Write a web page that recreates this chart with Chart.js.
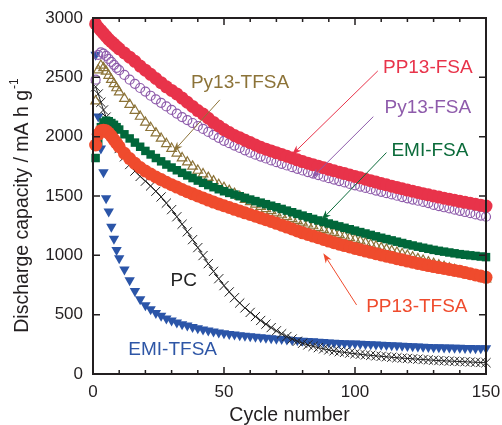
<!DOCTYPE html>
<html>
<head>
<meta charset="utf-8">
<script src="https://cdn.jsdelivr.net/npm/chart.js@4.4.0/dist/chart.umd.min.js"></script>
<style>
  html, body { margin: 0; padding: 0; background: #fff; }
</style>
</head>
<body>
<canvas id="capChart" width="502" height="425"></canvas>
<script>
// cycle numbers shared by all series
const cycles = [1,2,3,4,5,6,7,8,9,10,12,14,16,18,20,22,24,26,28,30,32,34,36,38,40,42,44,46,48,50,
  52,54,56,58,60,62,64,66,68,70,72,74,76,78,80,82,84,86,88,90,92,94,96,98,100,102,104,106,108,110,
  112,114,116,118,120,122,124,126,128,130,132,134,136,138,140,142,144,146,148,150];

// discharge capacity, mA h g-1
const pp13FSA = [2950,2920,2895,2870,2845,2820,2800,2780,2760,2740,
  2705,2670,2635,2595,2560,2525,2490,2455,2420,2390,
  2360,2325,2290,2255,2220,2190,2155,2120,2090,2060,
  2035,2010,1990,1970,1950,1930,1910,1895,1880,1865,
  1850,1835,1820,1805,1790,1777,1764,1751,1738,1725,
  1713,1701,1689,1677,1665,1653,1641,1629,1617,1605,
  1594,1583,1572,1561,1550,1540,1530,1520,1510,1500,
  1491,1482,1473,1464,1455,1447,1439,1431,1423,1415];

const py13FSA = [2480,2690,2710,2700,2680,2655,2630,2605,2580,2560,
  2520,2480,2445,2410,2380,2345,2315,2285,2255,2225,
  2195,2165,2140,2115,2090,2065,2040,2015,1990,1965,
  1945,1925,1905,1885,1865,1848,1832,1816,1800,1785,
  1771,1757,1743,1729,1715,1702,1689,1676,1663,1650,
  1638,1626,1614,1602,1590,1579,1568,1557,1546,1535,
  1524,1513,1502,1491,1480,1470,1460,1450,1440,1425,
  1415,1405,1395,1385,1375,1365,1355,1345,1335,1325];

const pp13TFSA = [1930,2020,2050,2055,2050,2030,2005,1975,1945,1915,
  1860,1815,1775,1740,1710,1685,1660,1638,1616,1595,
  1575,1555,1536,1518,1500,1483,1466,1449,1433,1418,
  1403,1388,1373,1358,1344,1330,1315,1300,1285,1270,
  1254,1238,1222,1206,1190,1176,1162,1148,1134,1120,
  1107,1094,1082,1070,1058,1047,1036,1025,1014,1003,
  993,983,972,962,952,942,932,923,914,905,
  897,889,881,873,865,855,845,835,825,815];

const emiFSA = [1820,1960,2080,2120,2135,2130,2115,2100,2080,2060,
  2020,1985,1950,1915,1880,1850,1820,1792,1765,1740,
  1717,1695,1673,1651,1630,1611,1592,1574,1557,1540,
  1526,1512,1498,1484,1470,1457,1444,1431,1418,1405,
  1391,1377,1363,1349,1335,1321,1307,1294,1281,1268,
  1256,1244,1232,1220,1208,1196,1184,1172,1160,1148,
  1137,1126,1115,1104,1093,1083,1073,1064,1055,1046,
  1038,1031,1024,1017,1010,1005,1000,995,990,985];

const py13TFSA = [2300,2560,2600,2580,2550,2515,2480,2445,2410,2375,
  2320,2270,2220,2170,2120,2075,2030,1985,1940,1900,
  1860,1820,1785,1750,1715,1685,1655,1625,1595,1570,
  1545,1520,1495,1470,1450,1430,1410,1392,1374,1356,
  1340,1324,1308,1292,1277,1262,1247,1232,1217,1203,
  1189,1175,1161,1147,1133,1119,1105,1091,1077,1063,
  1050,1037,1024,1011,998,984,970,957,943,930,
  917,904,891,878,865,852,839,826,813,800];

const pcData = [2420,2360,2290,2225,2165,2105,2050,1995,1945,1900,
  1830,1765,1710,1665,1625,1585,1540,1492,1440,1385,
  1325,1262,1198,1132,1065,998,930,865,803,745,
  692,643,598,557,519,484,451,420,391,364,
  339,316,295,276,259,245,233,222,212,203,
  195,188,182,176,171,166,161,157,153,149,
  145,141,137,134,131,128,125,122,119,116,
  113,111,109,107,105,103,101,99,97,95];

const emiTFSA = [2690,2170,1900,1700,1480,1370,1240,1140,1045,975,
  880,790,700,630,580,545,515,490,468,450,
  434,420,408,396,385,375,366,358,350,343,
  337,332,327,322,318,314,310,306,302,298,
  294,290,287,284,281,278,275,272,269,266,
  264,262,260,258,256,254,252,250,248,246,
  244,242,240,238,236,234,232,230,228,226,
  225,224,223,222,221,220,219,218,217,216];

const xTicks = [0, 50, 100, 150];
const yTicks = [0, 500, 1000, 1500, 2000, 2500, 3000];

// curve labels: text position and arrow (from -> to), in data units
const labels = [
  { text: 'PP13-FSA',  color: '#e8334a', at: [127.8, 2580], arrow: [[108.7, 2554], [75.9, 1846]] },
  { text: 'Py13-FSA',  color: '#8e5bab', at: [127.8, 2242], arrow: [[107, 2169], [83.4, 1650]] },
  { text: 'EMI-FSA',   color: '#0b6b3a', at: [128.6, 1880], arrow: [[112, 1866], [87.2, 1298]] },
  { text: 'Py13-TFSA', color: '#8c7338', at: [56.1, 2453], arrow: [[48.4, 2310], [30.6, 1874]] },
  { text: 'PC',        color: '#222222', at: [34.6, 784] },
  { text: 'EMI-TFSA',  color: '#2e56a6', at: [30.4, 202] },
  { text: 'PP13-TFSA', color: '#ef4b2d', at: [123.6, 565], arrow: [[100.6, 582], [87.9, 1018]] }
];

const FONT = '"Liberation Sans", Arial, Helvetica, sans-serif';
const INK = '#231f20';

function pts(vals) {
  return cycles.map((c, i) => ({ x: c, y: vals[i] }));
}

// frame, inward ticks, y title and curve labels
const decorations = {
  id: 'decorations',
  afterDatasetsDraw(chart) {
    const ctx = chart.ctx;
    const a = chart.chartArea;
    const xs = chart.scales.x, ys = chart.scales.y;
    ctx.save();
    ctx.strokeStyle = INK;
    ctx.lineWidth = 1.5;
    ctx.beginPath();
    for (let v = 0; v <= 150; v += 10) {
      const px = xs.getPixelForValue(v);
      const len = v % 50 === 0 ? 7 : 4;
      ctx.moveTo(px, a.bottom); ctx.lineTo(px, a.bottom - len);
      ctx.moveTo(px, a.top); ctx.lineTo(px, a.top + len);
    }
    yTicks.forEach(v => {
      const py = ys.getPixelForValue(v);
      ctx.moveTo(a.left, py); ctx.lineTo(a.left + 7, py);
      ctx.moveTo(a.right, py); ctx.lineTo(a.right - 7, py);
    });
    ctx.stroke();
    ctx.lineWidth = 2;
    ctx.strokeRect(a.left, a.top, a.right - a.left, a.bottom - a.top);

    // y axis title with superscript
    ctx.fillStyle = INK;
    ctx.translate(23, 206);
    ctx.rotate(-Math.PI / 2);
    ctx.textBaseline = 'middle';
    ctx.font = '19.5px ' + FONT;
    const main = 'Discharge capacity / mA h g';
    const w1 = ctx.measureText(main).width;
    ctx.font = '12px ' + FONT;
    const w2 = ctx.measureText('-1').width;
    const start = -(w1 + w2) / 2;
    ctx.font = '19.5px ' + FONT;
    ctx.fillText(main, start, 0);
    ctx.font = '12px ' + FONT;
    ctx.fillText('-1', start + w1 + 1, -8);
    ctx.restore();

    // labels and arrows
    ctx.save();
    ctx.font = '19px ' + FONT;
    ctx.textAlign = 'center';
    ctx.textBaseline = 'middle';
    labels.forEach(l => {
      ctx.fillStyle = l.color;
      ctx.fillText(l.text, xs.getPixelForValue(l.at[0]), ys.getPixelForValue(l.at[1]));
      if (!l.arrow) return;
      const x0 = xs.getPixelForValue(l.arrow[0][0]), y0 = ys.getPixelForValue(l.arrow[0][1]);
      const x1 = xs.getPixelForValue(l.arrow[1][0]), y1 = ys.getPixelForValue(l.arrow[1][1]);
      const ang = Math.atan2(y1 - y0, x1 - x0);
      ctx.strokeStyle = l.color;
      ctx.lineWidth = 1;
      ctx.beginPath();
      ctx.moveTo(x0, y0); ctx.lineTo(x1 - 6 * Math.cos(ang), y1 - 6 * Math.sin(ang));
      ctx.stroke();
      ctx.beginPath();
      ctx.moveTo(x1, y1);
      ctx.lineTo(x1 - 10 * Math.cos(ang) + 3.5 * Math.sin(ang), y1 - 10 * Math.sin(ang) - 3.5 * Math.cos(ang));
      ctx.lineTo(x1 - 7 * Math.cos(ang), y1 - 7 * Math.sin(ang));
      ctx.lineTo(x1 - 10 * Math.cos(ang) - 3.5 * Math.sin(ang), y1 - 10 * Math.sin(ang) + 3.5 * Math.cos(ang));
      ctx.closePath();
      ctx.fill();
    });
    ctx.restore();
  }
};

const ctx = document.getElementById('capChart').getContext('2d');
new Chart(ctx, {
  type: 'scatter',
  data: {
    datasets: [
      { label: 'PP13-FSA', data: pts(pp13FSA), pointStyle: 'circle', pointRadius: 6.5,
        backgroundColor: '#e8334a', borderColor: '#e8334a', borderWidth: 0 },
      { label: 'Py13-FSA', data: pts(py13FSA), pointStyle: 'circle', pointRadius: 4.5,
        backgroundColor: 'rgba(255,255,255,0)', borderColor: '#8e5bab', borderWidth: 1.2 },
      { label: 'PP13-TFSA', data: pts(pp13TFSA), pointStyle: 'circle', pointRadius: 6.5,
        backgroundColor: '#ef4b2d', borderColor: '#ef4b2d', borderWidth: 0 },
      { label: 'EMI-FSA', data: pts(emiFSA), pointStyle: 'rect', pointRadius: 6,
        backgroundColor: '#00673a', borderColor: '#00673a', borderWidth: 0 },
      { label: 'Py13-TFSA', data: pts(py13TFSA), pointStyle: 'triangle', pointRadius: 5.5,
        backgroundColor: 'rgba(255,255,255,0)', borderColor: '#8c7338', borderWidth: 1.2 },
      { label: 'PC', data: pts(pcData), pointStyle: 'crossRot', pointRadius: 6.5,
        borderColor: '#222', borderWidth: 1, showLine: true },
      { label: 'EMI-TFSA', data: pts(emiTFSA), pointStyle: 'triangle', pointRotation: 180, pointRadius: 6,
        backgroundColor: '#2b55a8', borderColor: '#2b55a8', borderWidth: 0 }
    ]
  },
  options: {
    responsive: false,
    animation: false,
    clip: false,
    layout: { padding: { left: 0, right: 16, top: 18, bottom: 0 } },
    plugins: { legend: { display: false }, tooltip: { enabled: false } },
    scales: {
      x: {
        type: 'linear', min: 0, max: 150,
        afterBuildTicks: s => { s.ticks = xTicks.map(v => ({ value: v })); },
        ticks: { font: { family: FONT, size: 17 }, color: INK, padding: 8, maxRotation: 0,
          callback: v => String(v) },
        grid: { display: false, drawTicks: false },
        border: { display: false },
        title: { display: true, text: 'Cycle number', color: INK,
          font: { family: FONT, size: 19.5, lineHeight: 1.0 }, padding: { top: 0, bottom: 0 } },
        afterFit: s => { s.height = 51; s.paddingLeft = 0; s.paddingRight = 0; }
      },
      y: {
        min: 0, max: 3000,
        afterBuildTicks: s => { s.ticks = yTicks.map(v => ({ value: v })); },
        ticks: { font: { family: FONT, size: 17 }, color: INK, padding: 10,
          callback: v => String(v) },
        grid: { display: false, drawTicks: false },
        border: { display: false },
        afterFit: s => { s.width = 93; s.paddingTop = 0; s.paddingBottom = 0; }
      }
    }
  },
  plugins: [decorations]
});
</script>
</body>
</html>
